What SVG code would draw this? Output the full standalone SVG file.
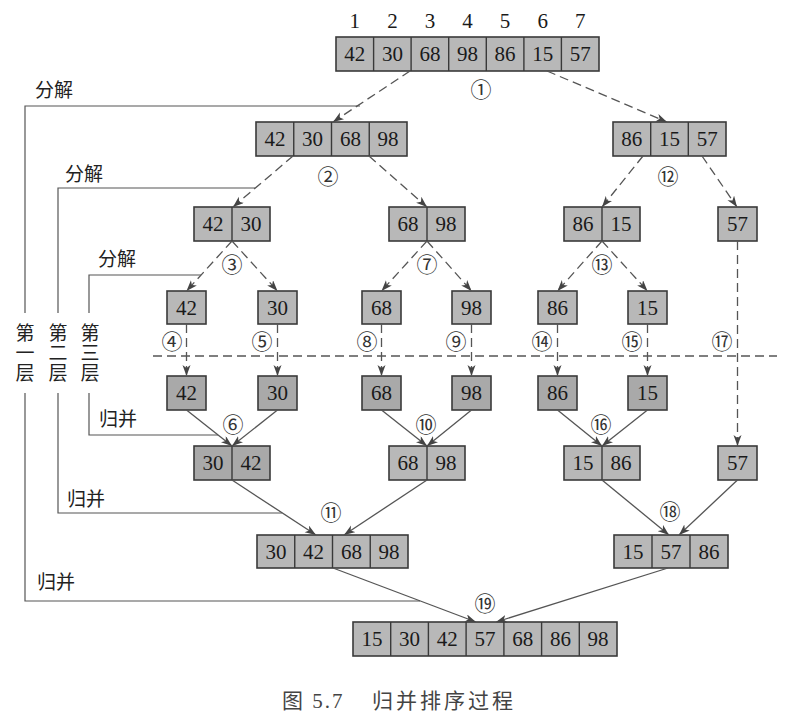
<svg xmlns="http://www.w3.org/2000/svg" width="812" height="727" viewBox="0 0 812 727">
<style>
.bx{fill:#b8b8b8;stroke:#3a3a3a;stroke-width:1.6}
.dk{fill:#a9a9a9}
.dv{stroke:#3a3a3a;stroke-width:1.4}
.n{font-family:"Liberation Serif","Times New Roman",serif;font-size:21px;fill:#1a1a1a;text-anchor:middle;dominant-baseline:central}
.c{font-family:"Noto Sans CJK SC",sans-serif;font-size:21px;fill:#333;text-anchor:middle;dominant-baseline:central}
.lb{font-family:"Noto Sans CJK SC",sans-serif;font-size:19px;fill:#222}
.vt{font-family:"Noto Sans CJK SC",sans-serif;font-size:19px;fill:#222;writing-mode:vertical-rl;letter-spacing:1px}
.cap{font-family:"Liberation Serif","Noto Sans CJK SC",serif;font-size:21px;fill:#444}
.ds{fill:none;stroke:#555;stroke-width:1.3;stroke-dasharray:9 5}
.so{fill:none;stroke:#555;stroke-width:1.3}
.br{fill:none;stroke:#555;stroke-width:1.2}
</style>
<defs>
<marker id="ah" markerUnits="userSpaceOnUse" markerWidth="12" markerHeight="9" refX="11" refY="4" orient="auto">
<path d="M0,0 L11,4 L0,8 L3,4 z" fill="#444"/>
</marker>
</defs>
<rect width="812" height="727" fill="#fff"/>

<g id="indices">
<text class="n" x="354.8" y="21">1</text><text class="n" x="392.4" y="21">2</text><text class="n" x="430" y="21">3</text><text class="n" x="467.5" y="21">4</text><text class="n" x="505.1" y="21">5</text><text class="n" x="542.7" y="21">6</text><text class="n" x="580.2" y="21">7</text>
</g>

<g id="a0">
<rect class="bx" x="336" y="37" width="263" height="34"/>
<path class="dv" d="M373.6,37V71M411.1,37V71M448.7,37V71M486.3,37V71M523.9,37V71M561.4,37V71"/>
<text class="n" x="354.8" y="54">42</text><text class="n" x="392.4" y="54">30</text><text class="n" x="430" y="54">68</text><text class="n" x="467.5" y="54">98</text><text class="n" x="505.1" y="54">86</text><text class="n" x="542.7" y="54">15</text><text class="n" x="580.2" y="54">57</text>
</g>

<g id="a1l">
<rect class="bx" x="256" y="122" width="151" height="34"/>
<path class="dv" d="M293.75,122V156M331.5,122V156M369.25,122V156"/>
<text class="n" x="274.9" y="139">42</text><text class="n" x="312.6" y="139">30</text><text class="n" x="350.4" y="139">68</text><text class="n" x="388.1" y="139">98</text>
</g>
<g id="a1r">
<rect class="bx" x="613" y="122" width="113" height="34"/>
<path class="dv" d="M650.7,122V156M688.3,122V156"/>
<text class="n" x="631.8" y="139">86</text><text class="n" x="669.5" y="139">15</text><text class="n" x="707.2" y="139">57</text>
</g>

<g id="a2a"><rect class="bx" x="194" y="207" width="76" height="34"/><path class="dv" d="M232,207V241"/><text class="n" x="213" y="224">42</text><text class="n" x="251" y="224">30</text></g>
<g id="a2b"><rect class="bx" x="389" y="207" width="76" height="34"/><path class="dv" d="M427,207V241"/><text class="n" x="408" y="224">68</text><text class="n" x="446" y="224">98</text></g>
<g id="a2c"><rect class="bx" x="564" y="207" width="76" height="34"/><path class="dv" d="M602,207V241"/><text class="n" x="583" y="224">86</text><text class="n" x="621" y="224">15</text></g>
<g id="a2d"><rect class="bx" x="718" y="207" width="39" height="34"/><text class="n" x="737.5" y="224">57</text></g>

<g id="l4a"><rect class="bx" x="167" y="291" width="39" height="33"/><text class="n" x="186.5" y="307.5">42</text></g>
<g id="l4b"><rect class="bx" x="258" y="291" width="39" height="33"/><text class="n" x="277.5" y="307.5">30</text></g>
<g id="l4c"><rect class="bx" x="362" y="291" width="39" height="33"/><text class="n" x="381.5" y="307.5">68</text></g>
<g id="l4d"><rect class="bx" x="452" y="291" width="39" height="33"/><text class="n" x="471.5" y="307.5">98</text></g>
<g id="l4e"><rect class="bx" x="538" y="291" width="39" height="33"/><text class="n" x="557.5" y="307.5">86</text></g>
<g id="l4f"><rect class="bx" x="628" y="291" width="39" height="33"/><text class="n" x="647.5" y="307.5">15</text></g>

<g id="l5a"><rect class="bx dk" x="167" y="376" width="39" height="34"/><text class="n" x="186.5" y="393">42</text></g>
<g id="l5b"><rect class="bx dk" x="258" y="376" width="39" height="34"/><text class="n" x="277.5" y="393">30</text></g>
<g id="l5c"><rect class="bx dk" x="362" y="376" width="39" height="34"/><text class="n" x="381.5" y="393">68</text></g>
<g id="l5d"><rect class="bx dk" x="452" y="376" width="39" height="34"/><text class="n" x="471.5" y="393">98</text></g>
<g id="l5e"><rect class="bx dk" x="538" y="376" width="39" height="34"/><text class="n" x="557.5" y="393">86</text></g>
<g id="l5f"><rect class="bx dk" x="628" y="376" width="39" height="34"/><text class="n" x="647.5" y="393">15</text></g>

<g id="l6a"><rect class="bx dk" x="194" y="446" width="76" height="34"/><path class="dv" d="M232,446V480"/><text class="n" x="213" y="463">30</text><text class="n" x="251" y="463">42</text></g>
<g id="l6b"><rect class="bx" x="389" y="446" width="76" height="34"/><path class="dv" d="M427,446V480"/><text class="n" x="408" y="463">68</text><text class="n" x="446" y="463">98</text></g>
<g id="l6c"><rect class="bx" x="564" y="446" width="76" height="34"/><path class="dv" d="M602,446V480"/><text class="n" x="583" y="463">15</text><text class="n" x="621" y="463">86</text></g>
<g id="l6d"><rect class="bx" x="718" y="446" width="39" height="34"/><text class="n" x="737.5" y="463">57</text></g>

<g id="l7a">
<rect class="bx" x="257" y="535" width="151" height="33"/>
<path class="dv" d="M294.75,535V568M332.5,535V568M370.25,535V568"/>
<text class="n" x="275.9" y="551.5">30</text><text class="n" x="313.6" y="551.5">42</text><text class="n" x="351.4" y="551.5">68</text><text class="n" x="389.1" y="551.5">98</text>
</g>
<g id="l7b">
<rect class="bx" x="614" y="535" width="114" height="33"/>
<path class="dv" d="M652,535V568M690,535V568"/>
<text class="n" x="633" y="551.5">15</text><text class="n" x="671" y="551.5">57</text><text class="n" x="709" y="551.5">86</text>
</g>

<g id="final">
<rect class="bx" x="353" y="622" width="264" height="34"/>
<path class="dv" d="M390.7,622V656M428.4,622V656M466.1,622V656M503.9,622V656M541.6,622V656M579.3,622V656"/>
<text class="n" x="371.9" y="639">15</text><text class="n" x="409.6" y="639">30</text><text class="n" x="447.3" y="639">42</text><text class="n" x="485" y="639">57</text><text class="n" x="522.7" y="639">68</text><text class="n" x="560.4" y="639">86</text><text class="n" x="598.1" y="639">98</text>
</g>

<g id="connectors">
<path class="ds" marker-end="url(#ah)" d="M410,71L333,122"/>
<path class="ds" marker-end="url(#ah)" d="M547,71L667,122"/>
<path class="ds" marker-end="url(#ah)" d="M293,156L233,207"/>
<path class="ds" marker-end="url(#ah)" d="M369,156L427,207"/>
<path class="ds" marker-end="url(#ah)" d="M643,156L602,207"/>
<path class="ds" marker-end="url(#ah)" d="M702,156L737,207"/>
<path class="ds" marker-end="url(#ah)" d="M232,241L186.5,291"/>
<path class="ds" marker-end="url(#ah)" d="M232,241L277.5,291"/>
<path class="ds" marker-end="url(#ah)" d="M427,241L381.5,291"/>
<path class="ds" marker-end="url(#ah)" d="M427,241L471.5,291"/>
<path class="ds" marker-end="url(#ah)" d="M602,241L557.5,291"/>
<path class="ds" marker-end="url(#ah)" d="M602,241L647.5,291"/>
<path class="ds" marker-end="url(#ah)" d="M186.5,324V376"/>
<path class="ds" marker-end="url(#ah)" d="M277.5,324V376"/>
<path class="ds" marker-end="url(#ah)" d="M381.5,324V376"/>
<path class="ds" marker-end="url(#ah)" d="M471.5,324V376"/>
<path class="ds" marker-end="url(#ah)" d="M557.5,324V376"/>
<path class="ds" marker-end="url(#ah)" d="M647.5,324V376"/>
<path class="ds" marker-end="url(#ah)" d="M737.5,241V446"/>
<path class="ds" d="M153,356H777"/>
<path class="so" marker-end="url(#ah)" d="M186.5,410L232,446"/>
<path class="so" marker-end="url(#ah)" d="M277.5,410L232,446"/>
<path class="so" marker-end="url(#ah)" d="M381.5,410L427,446"/>
<path class="so" marker-end="url(#ah)" d="M471.5,410L427,446"/>
<path class="so" marker-end="url(#ah)" d="M557.5,410L602,446"/>
<path class="so" marker-end="url(#ah)" d="M647.5,410L602,446"/>
<path class="so" marker-end="url(#ah)" d="M232,480L316,535"/>
<path class="so" marker-end="url(#ah)" d="M427,480L344,535"/>
<path class="so" marker-end="url(#ah)" d="M602,480L669,535"/>
<path class="so" marker-end="url(#ah)" d="M737.5,480L679,535"/>
<path class="so" marker-end="url(#ah)" d="M333,568L476,622"/>
<path class="so" marker-end="url(#ah)" d="M668,568L496,622"/>
</g>

<g id="steps">
<text class="c" x="481" y="88">①</text>
<text class="c" x="328" y="175">②</text>
<text class="c" x="668" y="175">⑫</text>
<text class="c" x="232" y="263">③</text>
<text class="c" x="427" y="263">⑦</text>
<text class="c" x="602" y="263">⑬</text>
<text class="c" x="172" y="340">④</text>
<text class="c" x="262" y="340">⑤</text>
<text class="c" x="367" y="340">⑧</text>
<text class="c" x="456" y="340">⑨</text>
<text class="c" x="542" y="340">⑭</text>
<text class="c" x="632" y="340">⑮</text>
<text class="c" x="722" y="340">⑰</text>
<text class="c" x="233" y="423">⑥</text>
<text class="c" x="426" y="423">⑩</text>
<text class="c" x="601" y="423">⑯</text>
<text class="c" x="331" y="511">⑪</text>
<text class="c" x="670" y="510">⑱</text>
<text class="c" x="485" y="602">⑲</text>
</g>

<g id="brackets">
<path class="br" d="M360,106H25V313M25,393V601H420"/>
<path class="br" d="M255,188H58V313M58,393V513H282"/>
<path class="br" d="M201,275H89V313M89,393V435H218"/>
<text class="lb" x="35" y="97">分解</text>
<text class="lb" x="65" y="181">分解</text>
<text class="lb" x="98" y="266">分解</text>
<text class="lb" x="99" y="426">归并</text>
<text class="lb" x="67" y="506">归并</text>
<text class="lb" x="37" y="589">归并</text>
<text class="vt" x="25" y="323">第一层</text>
<text class="vt" x="58" y="323">第二层</text>
<text class="vt" x="90" y="323">第三层</text>
</g>

<g id="caption">
<text class="cap" x="282" y="708" letter-spacing="2">图 5.7</text>
<text class="cap" x="372" y="708" letter-spacing="3">归并排序过程</text>
</g>
</svg>
